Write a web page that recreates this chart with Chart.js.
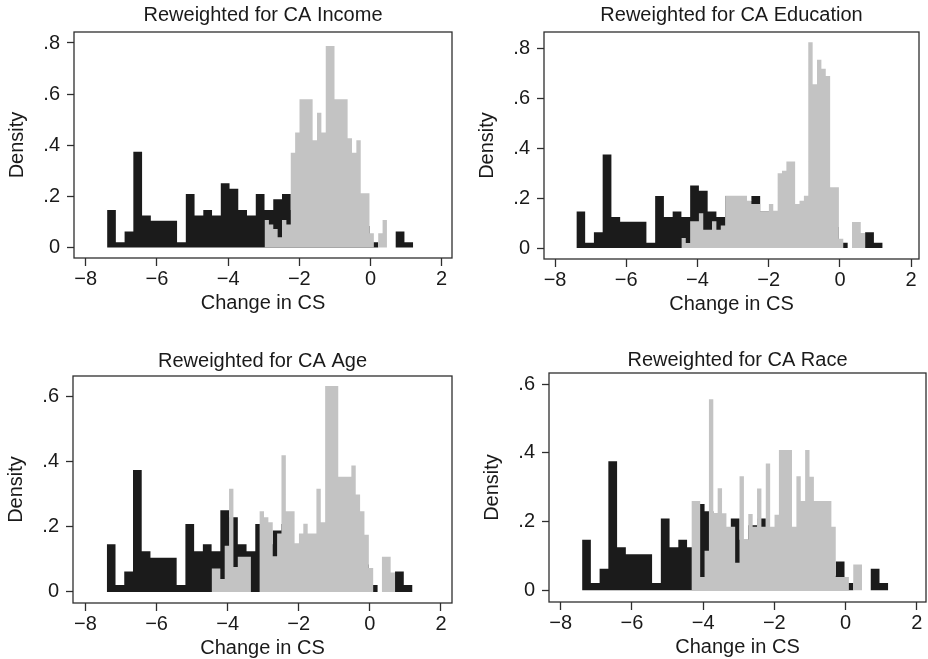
<!DOCTYPE html>
<html>
<head>
<meta charset="utf-8">
<script src="https://cdn.jsdelivr.net/npm/chart.js@4.4.0/dist/chart.umd.min.js"></script>
<style>
  body { margin: 0; background: #fff; overflow: hidden; }
  #wrap { position: relative; width: 928px; height: 659px; overflow: hidden; }
  canvas { position: absolute; }
</style>
</head>
<body>
<div id="wrap">
  <canvas id="c0"></canvas>
  <canvas id="c1"></canvas>
  <canvas id="c2"></canvas>
  <canvas id="c3"></canvas>
</div>
<script>
// unweighted change in CS (black, same in every panel): 35 bins
const baseStart = -7.40;
const baseWidth = 0.2457;
const baseDensity = [
  0.147, 0.021, 0.063, 0.375, 0.125, 0.105, 0.105, 0.105, 0.021, 0.209,
  0.125, 0.147, 0.125, 0.251, 0.230, 0.147, 0.125, 0.209, 0.147, 0.189,
  0.209, 0.147, 0.146, 0.084, 0.126, 0.042, 0.063, 0.042, 0.042, 0.084,
  0.021, 0, 0, 0.063, 0.021
];

// reweighted distributions (grey), finer bins
const reBinWidth = 0.12285;

const incomeStart = -2.977;
const incomeDensity = [
  0.108, 0.09, 0.072, 0.04, 0.108, 0.09, 0.371, 0.45, 0.58, 0.58,
  0.58, 0.42, 0.527, 0.45, 0.788, 0.788, 0.58, 0.58, 0.58, 0.427,
  0.371, 0.42, 0.212, 0.212, 0.056, 0, 0.056, 0.108
];

const educationStart = -4.452;
const educationDensity = [
  0.04, 0.02, 0.107, 0.107, 0.14, 0.073, 0.073, 0.107, 0.073, 0.09,
  0.21, 0.21, 0.21, 0.21, 0.21, 0.19, 0.177, 0.177, 0.148, 0.148,
  0.177, 0.15, 0.3, 0.31, 0.347, 0.347, 0.177, 0.19, 0.21, 0.826,
  0.657, 0.756, 0.72, 0.69, 0.244, 0.244, 0.037, 0, 0, 0.104,
  0.104, 0.06
];

const ageStart = -4.452;
const ageDensity = [
  0.072, 0.072, 0.04, 0.142, 0.317, 0.077, 0.108, 0.108, 0.108, 0,
  0, 0.248, 0.23, 0.214, 0.11, 0.18, 0.42, 0.248, 0.248, 0.15,
  0.18, 0.21, 0.18, 0.18, 0.317, 0.214, 0.633, 0.633, 0.633, 0.354,
  0.354, 0.354, 0.389, 0.3, 0.248, 0.176, 0.074, 0, 0, 0.108,
  0.108, 0.06
];

const raceStart = -4.329;
const raceDensity = [
  0.26, 0.26, 0.039, 0.115, 0.556, 0.225, 0.297, 0.224, 0.185, 0.185,
  0.08, 0.332, 0.148, 0.222, 0.185, 0.296, 0.185, 0.369, 0.185, 0.22,
  0.408, 0.408, 0.408, 0.185, 0.332, 0.26, 0.408, 0.33, 0.26, 0.26,
  0.26, 0.26, 0.185, 0.039, 0.039, 0.039, 0, 0.075, 0.075
];

const panelTitles = ['Reweighted for CA Income', 'Reweighted for CA Education',
                     'Reweighted for CA Age', 'Reweighted for CA Race'];
const xTickValues = [-8, -6, -4, -2, 0, 2];
const xTickLabels = ['\u22128', '\u22126', '\u22124', '\u22122', '0', '2'];
const yTickValues = [0, 0.2, 0.4, 0.6, 0.8];
const yTickLabels = ['0', '.2', '.4', '.6', '.8'];

const BLACK = '#1b1b1b';
const GREY = '#c3c3c3';
const AXIS = '#2e2e2e';

Chart.defaults.font.family = "'Liberation Sans', Arial, Helvetica, sans-serif";
Chart.defaults.color = '#1a1a1a';

// margins around the plot region inside each canvas
const M = { left: 74, top: 32, right: 12, bottom: 72 };

const panels = [
  { title: panelTitles[0], start: incomeStart, dens: incomeDensity,
    area: { left: 74, top: 32, width: 378, height: 226 }, titleGap: 17,
    x: [-8.33, 2.29], y: [-0.041, 0.843], yTop: 0.8 },
  { title: panelTitles[1], start: educationStart, dens: educationDensity,
    area: { left: 544, top: 32, width: 375, height: 227 }, titleGap: 16.5,
    x: [-8.31, 2.22], y: [-0.044, 0.867], yTop: 0.8 },
  { title: panelTitles[2], start: ageStart, dens: ageDensity,
    area: { left: 73, top: 376, width: 379, height: 227 }, titleGap: 15,
    x: [-8.35, 2.31], y: [-0.034, 0.664], yTop: 0.6 },
  { title: panelTitles[3], start: raceStart, dens: raceDensity,
    area: { left: 549, top: 373, width: 377, height: 229 }, titleGap: 12.5,
    x: [-8.33, 2.26], y: [-0.034, 0.632], yTop: 0.6 }
];

// histogram outline as step points: left edge of every bin, then closing edge at 0
function stepPoints(start, width, heights) {
  const pts = heights.map((h, i) => ({ x: start + i * width, y: h }));
  pts.push({ x: start + heights.length * width, y: 0 });
  return pts;
}

const framePlugin = {
  id: 'frame',
  afterDatasetsDraw(chart) {
    const { ctx, chartArea: a } = chart;
    ctx.save();
    ctx.strokeStyle = AXIS;
    ctx.lineWidth = 1.3;
    ctx.strokeRect(a.left, a.top, a.right - a.left, a.bottom - a.top);
    ctx.restore();
  }
};

panels.forEach((p, idx) => {
  const canvas = document.getElementById('c' + idx);
  const w = p.area.width + M.left + M.right;
  const h = p.area.height + M.top + M.bottom;
  canvas.width = w;
  canvas.height = h;
  canvas.style.width = w + 'px';
  canvas.style.height = h + 'px';
  canvas.style.left = (p.area.left - M.left) + 'px';
  canvas.style.top = (p.area.top - M.top) + 'px';

  const titlePadTop = M.top - p.titleGap - 12;
  const yVals = yTickValues.filter(v => v <= p.yTop + 1e-9);

  new Chart(canvas, {
    type: 'line',
    data: {
      datasets: [
        {
          label: 'reweighted',
          data: stepPoints(p.start, reBinWidth, p.dens),
          stepped: true,
          fill: 'origin',
          backgroundColor: GREY,
          borderColor: 'rgba(0,0,0,0)',
          borderWidth: 0,
          pointRadius: 0,
          order: 0
        },
        {
          label: 'actual',
          data: stepPoints(baseStart, baseWidth, baseDensity),
          stepped: true,
          fill: 'origin',
          backgroundColor: BLACK,
          borderColor: 'rgba(0,0,0,0)',
          borderWidth: 0,
          pointRadius: 0,
          order: 1
        }
      ]
    },
    options: {
      responsive: false,
      animation: false,
      layout: { padding: { left: 0, right: M.right, top: 0, bottom: 0 } },
      plugins: {
        legend: { display: false },
        tooltip: { enabled: false },
        title: {
          display: true,
          fullSize: false,
          text: p.title,
          color: '#1a1a1a',
          font: { size: 20, weight: 'normal', lineHeight: 1.2 },
          padding: { top: titlePadTop, bottom: M.top - titlePadTop - 24 }
        }
      },
      scales: {
        x: {
          type: 'linear',
          min: p.x[0],
          max: p.x[1],
          afterBuildTicks: s => { s.ticks = xTickValues.map(v => ({ value: v })); },
          afterFit: s => { s.height = M.bottom; },
          ticks: {
            autoSkip: false,
            maxRotation: 0,
            padding: 1,
            font: { size: 20, lineHeight: 1.2 },
            color: '#1a1a1a',
            callback: (v, i) => xTickLabels[xTickValues.indexOf(v)]
          },
          grid: { drawOnChartArea: false, drawTicks: true, tickLength: 8, color: AXIS, tickWidth: 1.3 },
          border: { display: false },
          title: {
            display: true,
            text: 'Change in CS',
            color: '#1a1a1a',
            font: { size: 20, lineHeight: 1.2 },
            padding: { top: 0, bottom: 15 }
          }
        },
        y: {
          type: 'linear',
          min: p.y[0],
          max: p.y[1],
          afterBuildTicks: s => { s.ticks = yVals.map(v => ({ value: v })); },
          afterFit: s => { s.width = M.left; },
          ticks: {
            autoSkip: false,
            padding: 7,
            font: { size: 20, lineHeight: 1.2 },
            color: '#1a1a1a',
            callback: v => yTickLabels[yTickValues.indexOf(v)]
          },
          grid: { drawOnChartArea: false, drawTicks: true, tickLength: 7, color: AXIS, tickWidth: 1.3 },
          border: { display: false },
          title: {
            display: true,
            text: 'Density',
            color: '#1a1a1a',
            font: { size: 20, lineHeight: 1.2 },
            padding: { top: 5, bottom: 0 }
          }
        }
      }
    },
    plugins: [framePlugin]
  });
});
</script>
</body>
</html>
